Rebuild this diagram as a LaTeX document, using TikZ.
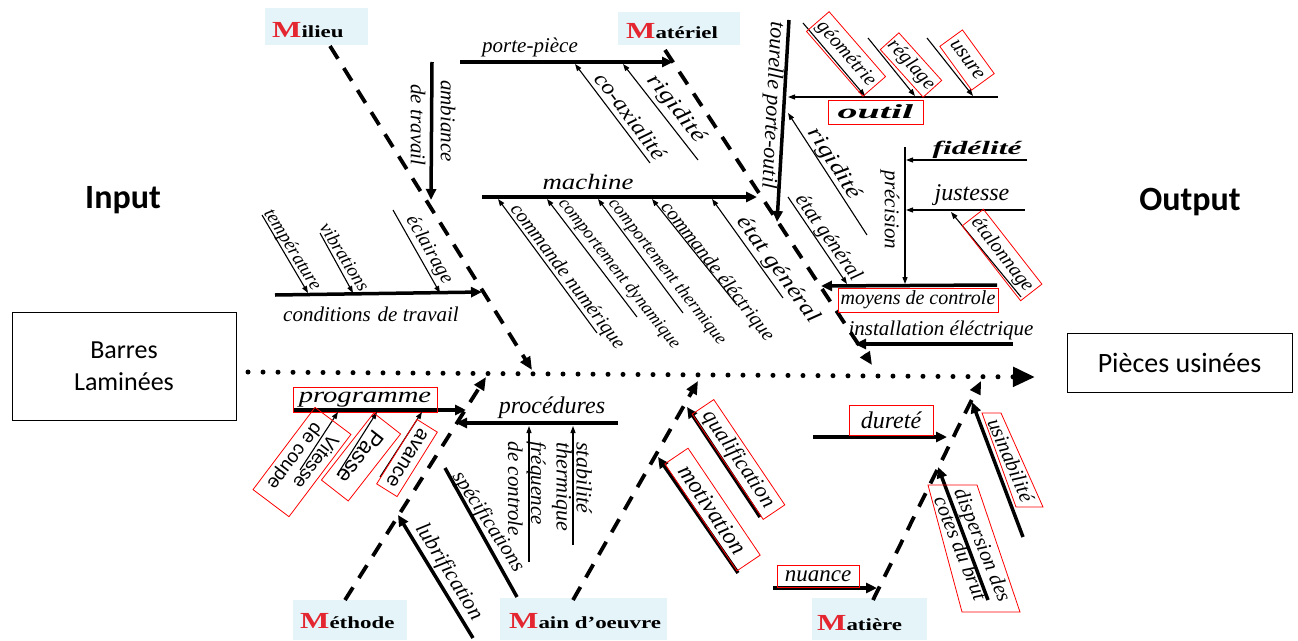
\documentclass[tikz,border=0pt]{standalone}
\usepackage{fontspec}
\usepackage{graphicx}
\setmainfont{Liberation Serif}
\newfontfamily\calibfont{Carlito}
\newfontfamily\arialfont{Liberation Sans}
\usetikzlibrary{arrows.meta}
\definecolor{mred}{RGB}{228,38,48}
\definecolor{headbg}{RGB}{228,244,249}
\newcommand\fz[1]{\fontsize{#1}{#1}\selectfont}
\newcommand\hx[2]{\scalebox{#1}[1]{#2}}
\newcommand\mlabel[1]{\fz{17}\bfseries\hx{1.35}{{\color{mred}\fz{23}M}#1}}

\begin{document}
\begin{tikzpicture}[x=1pt,y=-1pt,
  thickarr/.style={line width=3.5pt,-{Triangle[length=11pt,width=10pt]}},
  thickline/.style={line width=3.5pt},
  thinarr/.style={line width=1.1pt,-{Triangle[length=7pt,width=5pt]}},
  bone/.style={line width=3.8pt,dash pattern=on 15pt off 11pt,-{Triangle[length=13pt,width=11pt]}},
  spine/.style={line width=5pt,line cap=round,dash pattern=on 0pt off 15pt,-{Triangle[length=22pt,width=19pt]}},
  lab/.style={inner sep=0pt,font=\itshape},
  rbox/.style={draw=red,line width=0.8pt,inner sep=0pt},
  head/.style={fill=headbg,draw=none,inner sep=0pt},
  htext/.style={anchor=base west,inner sep=0pt}]
\useasboundingbox (0,0) rectangle (1298,640);

% ---------- input / output ----------
\node[font=\calibfont\bfseries\fz{34}] (input) at (123,200) {Input};
\node[font=\calibfont\bfseries\fz{34}] (output) at (1190,202) {Output};
\node[draw,line width=1pt,minimum width=224pt,minimum height=108pt,inner sep=0pt,align=center,
      font=\calibfont\fontsize{26}{32}\selectfont] (barres) at (124,366) {Barres\\Laminées};
\node[draw,line width=1pt,minimum width=225pt,minimum height=59pt,inner sep=0pt,
      font=\calibfont\fz{28}] (pieces) at (1179.5,362.5) {Pièces usinées};

% ---------- spine ----------
\coordinate (sp0) at (248,372);
\coordinate (sp1) at (1035,377);
\draw[spine] (sp0) -- (sp1);

% ---------- headings ----------
\node[head,minimum width=103pt,minimum height=37pt] (hmil) at (316.5,26.5) {};
\node[htext] (tmil) at (272,37) {\mlabel{ilieu}};
\node[head,minimum width=122pt,minimum height=33pt] (hmat) at (679,28.5) {};
\node[htext] (tmat) at (626,38) {\mlabel{atériel}};
\node[head,minimum width=114pt,minimum height=40pt] (hmet) at (350,620) {};
\node[htext] (tmet) at (300,628) {\mlabel{éthode}};
\node[head,minimum width=167pt,minimum height=42pt] (hmo) at (583.5,619) {};
\node[htext] (tmo) at (509,628) {\mlabel{ain d'oeuvre}};
\node[head,minimum width=115pt,minimum height=42pt] (hmt) at (869.5,619) {};
\node[htext] (tmt) at (817,630) {\mlabel{atière}};

% ---------- main bones ----------
\coordinate (milA) at (330,46);  \coordinate (milB) at (532,370);
\coordinate (matA) at (665,50);  \coordinate (matB) at (872,365);
\coordinate (metA) at (345,600); \coordinate (metB) at (486,377);
\coordinate (moA)  at (573,600); \coordinate (moB)  at (698,381);
\coordinate (mtA)  at (873,600); \coordinate (mtB)  at (981,381);
\draw[bone] (milA) -- (milB);
\draw[bone] (matA) -- (matB);
\draw[bone] (metA) -- (metB);
\draw[bone] (moA) -- (moB);
\draw[bone] (mtA) -- (mtB);

% ---------- Milieu ----------
\coordinate (amb0) at (432,62); \coordinate (amb1) at (431,200);
\draw[thickarr] (amb0) -- (amb1);
\node[lab,rotate=-90,font=\itshape\fz{21}] (amb) at (448,121) {ambiance};
\node[lab,rotate=-90,font=\itshape\fz{21}] (ambb) at (418,125) {de travail};

\coordinate (cdt0) at (275,295); \coordinate (cdt1) at (482,292);
\draw[thickarr] (cdt0) -- (cdt1);
\node[lab,font=\itshape\fz{21}] (cdt) at (371,314) {conditions\hspace{7pt}de travail};

\coordinate (tmp0) at (262,215); \coordinate (tmp1) at (308,293);
\draw[thinarr] (tmp0) -- (tmp1);
\node[lab,rotate=-58,font=\itshape\fz{19}] (tmp) at (292,250) {température};
\coordinate (vib0) at (320,233); \coordinate (vib1) at (353,293);
\draw[thinarr] (vib0) -- (vib1);
\node[lab,rotate=-58,font=\itshape\fz{19}] (vib) at (345,257) {vibrations};
\coordinate (ecl0) at (393,210); \coordinate (ecl1) at (440,293);
\draw[thinarr] (ecl0) -- (ecl1);
\node[lab,rotate=-60,font=\itshape\fz{20}] (ecl) at (429,250) {éclairage};

% ---------- Materiel ----------
\coordinate (pp0) at (460,62); \coordinate (pp1) at (673,62);
\draw[thickarr] (pp0) -- (pp1);
\node[lab,font=\itshape\fz{21}] (pp) at (530,47) {porte-pièce};
\coordinate (cx0) at (650,163); \coordinate (cx1) at (575,64);
\draw[thinarr] (cx0) -- (cx1);
\node[lab,rotate=-53,font=\itshape\fz{22}] (cx) at (631,116) {\hx{1.1}{co-axialité}};
\coordinate (rg0) at (698,160); \coordinate (rg1) at (623,64);
\draw[thinarr] (rg0) -- (rg1);
\node[lab,rotate=-52,font=\itshape\fz{22}] (rg) at (676,109) {\hx{1.25}{rigidité}};

\coordinate (mc0) at (482,197); \coordinate (mc1) at (757,197);
\draw[thickarr] (mc0) -- (mc1);
\node[lab,font=\itshape\fz{22}] (mc) at (588,182) {\hx{1.22}{machine}};
\coordinate (cn0) at (597,333); \coordinate (cn1) at (498,199);
\draw[thinarr] (cn0) -- (cn1);
\node[lab,rotate=-53,font=\itshape\fz{20}] (cn) at (567,277) {commande numérique};
\coordinate (cd0) at (637,317); \coordinate (cd1) at (547,199);
\draw[thinarr] (cd0) -- (cd1);
\node[lab,rotate=-52,font=\itshape\fz{18}] (cd) at (619,274) {comportement dynamique};
\coordinate (ct0) at (683,313); \coordinate (ct1) at (598,199);
\draw[thinarr] (ct0) -- (ct1);
\node[lab,rotate=-52,font=\itshape\fz{18}] (ct) at (667,272) {comportement thermique};
\coordinate (ce0) at (737,305); \coordinate (ce1) at (652,199);
\draw[thinarr] (ce0) -- (ce1);
\node[lab,rotate=-52,font=\itshape\fz{20}] (ce) at (717,272) {commande éléctrique};
\coordinate (eg0) at (783,298); \coordinate (eg1) at (712,199);
\draw[thinarr] (eg0) -- (eg1);
\node[lab,rotate=-54,font=\itshape\fz{22}] (eg) at (778,270) {\hx{1.2}{état général}};

% tool turret
\coordinate (to0) at (789,20); \coordinate (to1) at (777,222);
\draw[thickarr] (to0) -- (to1);
\node[lab,rotate=-93,font=\itshape\fz{22}] (to) at (772,105) {tourelle porte-outil};
\coordinate (ou0) at (998,97); \coordinate (ou1) at (788,97);
\draw[thinarr] (ou0) -- (ou1);
\node[rbox,minimum width=95pt,minimum height=24pt,font=\bfseries\itshape\fz{20}] (ou) at (875.5,112) {\hx{2.0}{outil}};
\coordinate (ge0) at (803,23); \coordinate (ge1) at (865,96);
\draw[thinarr] (ge0) -- (ge1);
\node[rbox,rotate=-49,minimum width=86pt,minimum height=30pt,font=\itshape\fz{20}] (ge) at (846,54) {géométrie};
\coordinate (re0) at (868,38); \coordinate (re1) at (915,96);
\draw[thinarr] (re0) -- (re1);
\node[rbox,rotate=-48,minimum width=64pt,minimum height=25pt,font=\itshape\fz{20}] (re) at (911,65) {réglage};
\coordinate (us0) at (927,38); \coordinate (us1) at (973,96);
\draw[thinarr] (us0) -- (us1);
\node[rbox,rotate=-54,minimum width=54pt,minimum height=28pt,font=\itshape\fz{21}] (us) at (967,60) {usure};
\coordinate (rt0) at (867,235); \coordinate (rt1) at (788,113);
\draw[thinarr] (rt0) -- (rt1);
\node[lab,rotate=-57,font=\itshape\fz{22}] (rt) at (834,164) {\hx{1.25}{rigidité}};
\coordinate (et0) at (788,197); \coordinate (et1) at (847,284);
\draw[thinarr] (et0) -- (et1);
\node[lab,rotate=-55,font=\itshape\fz{21}] (et) at (828,238) {état général};

% measuring means
\coordinate (my0) at (997,285); \coordinate (my1) at (821,286);
\draw[thickarr] (my0) -- (my1);
\node[rbox,minimum width=160pt,minimum height=24pt,font=\itshape\fz{20}] (my) at (918,300) {moyens de controle};
\coordinate (in0) at (1013,344); \coordinate (in1) at (855,344);
\draw[thickarr] (in0) -- (in1);
\node[lab,font=\itshape\fz{21}] (inst) at (941,330) {installation éléctrique};
\coordinate (pr0) at (905,147); \coordinate (pr1) at (905,284);
\draw[thinarr] (pr0) -- (pr1);
\node[lab,rotate=-90,font=\itshape\fz{21}] (prc) at (890,210) {précision};
\coordinate (fi0) at (1027,160); \coordinate (fi1) at (906,160);
\draw[thinarr] (fi0) -- (fi1);
\node[lab,font=\bfseries\itshape\fz{19}] (fi) at (977,150) {\hx{1.65}{fidélité}};
\coordinate (ju0) at (1025,210); \coordinate (ju1) at (906,210);
\draw[thinarr] (ju0) -- (ju1);
\node[lab,font=\itshape\fz{24}] (ju) at (972,195) {justesse};
\coordinate (ta0) at (1021,297); \coordinate (ta1) at (951,212);
\draw[thinarr] (ta0) -- (ta1);
\node[rbox,rotate=-52,minimum width=95pt,minimum height=27pt,font=\itshape\fz{20}] (ta) at (1002,255) {étalonnage};

% ---------- Methode ----------
\coordinate (pg0) at (293,410); \coordinate (pg1) at (466,410);
\draw[thickarr] (pg0) -- (pg1);
\node[rbox,minimum width=144pt,minimum height=25pt,font=\itshape\fz{22}] (pg) at (365,399.5) {\hx{1.3}{programme}};
\coordinate (vc0) at (300,470); \coordinate (vc1) at (338,412);
\draw[thinarr] (vc0) -- (vc1);
\node[rbox,rotate=-127,minimum width=103pt,minimum height=45pt,align=left,
      font=\arialfont\fontsize{19}{20}\selectfont] (vc) at (302,462) {Vitesse\\de coupe};
\coordinate (pa0) at (337,475); \coordinate (pa1) at (377,412);
\draw[thinarr] (pa0) -- (pa1);
\node[rbox,rotate=-128,minimum width=85pt,minimum height=34pt,font=\arialfont\fz{22}] (pa) at (361,457) {Passe};
\coordinate (av0) at (380,477); \coordinate (av1) at (422,412);
\draw[thinarr] (av0) -- (av1);
\node[rbox,rotate=-122,minimum width=76pt,minimum height=24pt,font=\arialfont\fz{20}] (av) at (407,458) {avance};

\coordinate (pc0) at (618,423); \coordinate (pc1) at (456,423);
\draw[thickarr] (pc0) -- (pc1);
\node[lab,font=\itshape\fz{24}] (pc) at (552,408) {procédures};
\coordinate (fq0) at (529,562); \coordinate (fq1) at (529,426);
\draw[thinarr] (fq0) -- (fq1);
\node[lab,rotate=-90,align=left,font=\itshape\fontsize{21}{23}\selectfont] (fq) at (527,489) {fréquence\\de controle};
\coordinate (sb0) at (573,545); \coordinate (sb1) at (573,426);
\draw[thinarr] (sb0) -- (sb1);
\node[lab,rotate=-90,align=left,font=\itshape\fontsize{22}{20}\selectfont] (sb) at (572,487) {stabilité\\thermique};
\coordinate (sf0) at (517,597); \coordinate (sf1) at (445,468);
\draw[thickline] (sf0) -- (sf1);
\node[lab,rotate=-57,font=\itshape\fz{21}] (sf) at (488,522) {spécifications};
\coordinate (lb0) at (473,638); \coordinate (lb1) at (398,515);
\draw[thickarr] (lb0) -- (lb1);
\node[lab,rotate=-58,font=\itshape\fz{22}] (lb) at (449,572) {lubrification};

% ---------- Main d'oeuvre ----------
\coordinate (ql0) at (760,517); \coordinate (ql1) at (687,407);
\draw[thickarr] (ql0) -- (ql1);
\node[rbox,rotate=-56,minimum width=127pt,minimum height=26pt,font=\itshape\fz{22}] (ql) at (738.5,459.5) {qualification};
\coordinate (mv0) at (738,573); \coordinate (mv1) at (658,457);
\draw[thickarr] (mv0) -- (mv1);
\node[rbox,rotate=-56,minimum width=129pt,minimum height=28pt,font=\itshape\fz{24}] (mv) at (712.5,509.5) {motivation};

% ---------- Matiere ----------
\coordinate (du0) at (813,437); \coordinate (du1) at (947,437);
\draw[thickarr] (du0) -- (du1);
\node[rbox,minimum width=84pt,minimum height=30pt,font=\itshape\fz{24}] (du) at (891,420) {dureté};
\coordinate (nu0) at (773,588); \coordinate (nu1) at (877,588);
\draw[thickarr] (nu0) -- (nu1);
\node[rbox,minimum width=82pt,minimum height=22pt,font=\itshape\fz{23}] (nu) at (818,576) {nuance};
\coordinate (dp0) at (988,600); \coordinate (dp1) at (938,467);
\draw[thickarr] (dp0) -- (dp1);
\coordinate (dpa) at (928,485); \coordinate (dpb) at (977,485);
\coordinate (dpc) at (1020,612); \coordinate (dpd) at (962,612);
\draw[red,line width=0.8pt] (dpa) -- (dpb) -- (dpc) -- (dpd) -- cycle;
\node[lab,rotate=-68,align=left,font=\itshape\fontsize{21}{22}\selectfont] (dp) at (973,549) {dispersion des\\cotes du brut};
\coordinate (ub0) at (1023,537); \coordinate (ub1) at (972,402);
\draw[thickarr] (ub0) -- (ub1);
\coordinate (uba) at (982,413); \coordinate (ubb) at (1001,413);
\coordinate (ubc) at (1043,507); \coordinate (ubd) at (1016,507);
\draw[red,line width=0.8pt] (uba) -- (ubb) -- (ubc) -- (ubd) -- cycle;
\node[lab,rotate=-67,font=\itshape\fz{21}] (ub) at (1011,460) {usinabilité};

\end{tikzpicture}
\end{document}
